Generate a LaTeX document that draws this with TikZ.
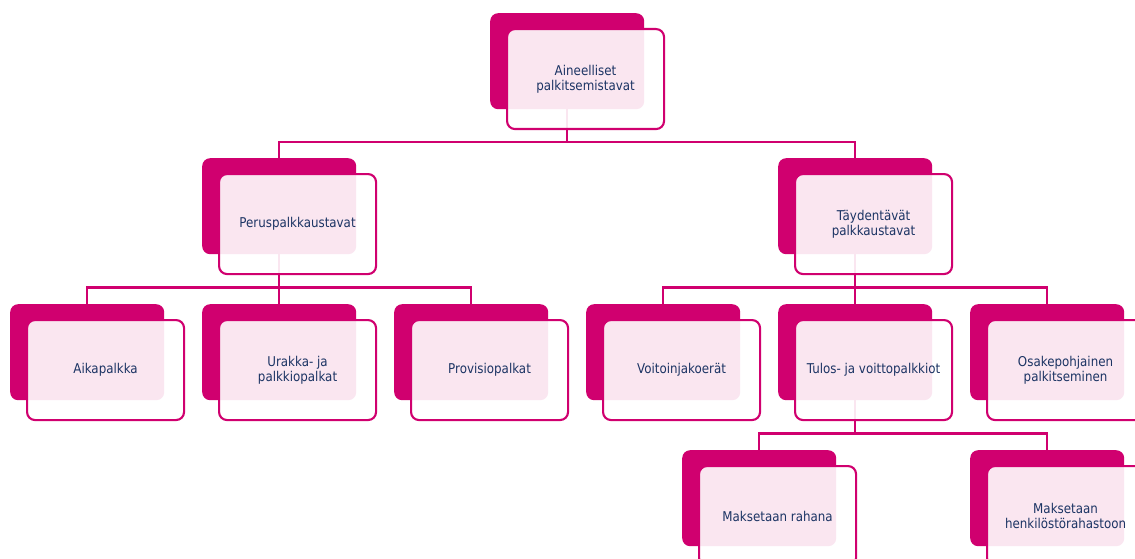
\documentclass[tikz,border=0pt]{standalone}
\usepackage{fontspec}
\setmainfont[FakeStretch=0.88]{DejaVu Sans}
\definecolor{mag}{RGB}{208,0,111}
\definecolor{txt}{RGB}{28,52,100}
\tikzset{
  darkbox/.style={anchor=north west, fill=mag, draw=none, rounded corners=8pt,
    minimum width=154pt, minimum height=96pt, inner sep=0pt},
  frontbox/.style={anchor=north west, draw=mag, line width=2.1pt, fill=white,
    fill opacity=0.9, text opacity=1, rounded corners=8pt,
    minimum width=157pt, minimum height=100pt, inner sep=2pt, align=center,
    text=txt, font=\fontsize{13.5}{15}\selectfont},
  conn/.style={draw=mag, line width=2.2pt}
}
\begin{document}
\begin{tikzpicture}[x=1pt, y=-1pt]
\useasboundingbox (0,0) rectangle (1135,559);
\clip (0,0) rectangle (1135,559);
\fill[white] (0,0) rectangle (1135,559);
% back boxes
\node[darkbox] (topd) at (490,13) {};
\node[darkbox] (perd) at (202,158) {};
\node[darkbox] (tayd) at (778,158) {};
\node[darkbox] (aikd) at (10,304) {};
\node[darkbox] (urad) at (202,304) {};
\node[darkbox] (prod) at (394,304) {};
\node[darkbox] (void) at (586,304) {};
\node[darkbox] (tuld) at (778,304) {};
\node[darkbox] (osad) at (970,304) {};
\node[darkbox] (rahd) at (682,450) {};
\node[darkbox] (hend) at (970,450) {};
% connectors
\draw[conn] (topd.south) -- ++(0,33) -| (perd.north);
\draw[conn] (topd.south) -- ++(0,33) -| (tayd.north);
\draw[conn] (perd.south) -- ++(0,33) -| (aikd.north);
\draw[conn] (perd.south) -- ++(0,33) -| (urad.north);
\draw[conn] (perd.south) -- ++(0,33) -| (prod.north);
\draw[conn] (tayd.south) -- ++(0,33) -| (void.north);
\draw[conn] (tayd.south) -- ++(0,33) -| (tuld.north);
\draw[conn] (tayd.south) -- ++(0,33) -| (osad.north);
\draw[conn] (tuld.south) -- ++(0,33) -| (rahd.north);
\draw[conn] (tuld.south) -- ++(0,33) -| (hend.north);
% front boxes
\node[frontbox] (topf) at (506,28) {Aineelliset\\palkitsemistavat};
\node[frontbox] (perf) at (218,173) {Peruspalkkaustavat};
\node[frontbox] (tayf) at (794,173) {Täydentävät\\palkkaustavat};
\node[frontbox] (aikf) at (26,319) {Aikapalkka};
\node[frontbox] (uraf) at (218,319) {Urakka- ja\\palkkiopalkat};
\node[frontbox] (prof) at (410,319) {Provisiopalkat};
\node[frontbox] (voif) at (602,319) {Voitoinjakoerät};
\node[frontbox] (tulf) at (794,319) {Tulos- ja voittopalkkiot};
\node[frontbox] (osaf) at (986,319) {Osakepohjainen\\palkitseminen};
\node[frontbox] (rahf) at (698,465) {Maksetaan rahana};
\node[frontbox] (henf) at (986,465) {Maksetaan\\henkilöstörahastoon};
\end{tikzpicture}
\end{document}
